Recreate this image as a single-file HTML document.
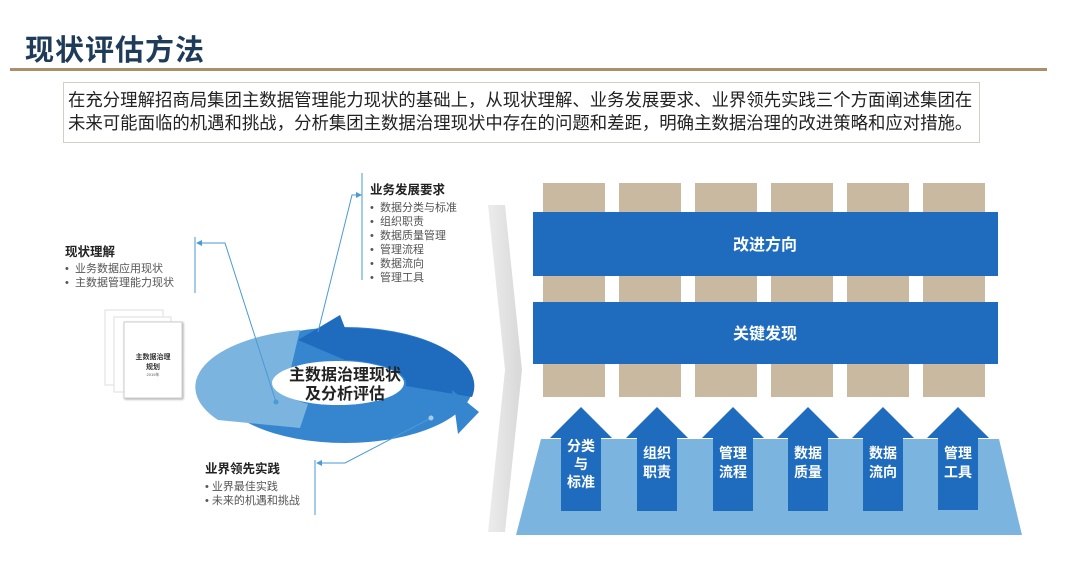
<!DOCTYPE html>
<html><head><meta charset="utf-8"><style>
body{margin:0;width:1080px;height:571px;background:#fff;position:relative;overflow:hidden;font-family:"Liberation Sans","Noto Sans CJK SC",sans-serif;}
.a{position:absolute;white-space:nowrap;}
.t{font-weight:bold;color:#222;font-size:12.5px;}
.b{color:#555;font-size:11px;line-height:14px;}
</style></head><body>
<div class="a" style="left:25px;top:27px;font-size:29px;font-weight:bold;color:#1f3b5a;letter-spacing:1px;">现状评估方法</div>
<div class="a" style="left:10px;top:68px;width:1037px;height:3px;background:#a8916a;"></div>
<div class="a" style="left:63px;top:82px;width:915px;height:59px;border:1px solid #d4cfc5;"></div>
<div class="a" style="left:68px;top:89px;font-size:17.4px;line-height:23px;color:#222;">在充分理解招商局集团主数据管理能力现状的基础上，从现状理解、业务发展要求、业界领先实践三个方面阐述集团在<br>未来可能面临的机遇和挑战，分析集团主数据治理现状中存在的问题和差距，明确主数据治理的改进策略和应对措施。</div>

<svg class="a" style="left:0;top:0" width="1080" height="571">
<defs><linearGradient id="g" x1="0" x2="1"><stop offset="0" stop-color="#ececec"/><stop offset="1" stop-color="#d8d8d8"/></linearGradient></defs>
<polygon points="488,205 505,205 522,370 505,532 488,532 505,370" fill="url(#g)"/>
<rect x="105" y="310" width="58" height="75" fill="#fff" stroke="#ddd"/>
<rect x="114" y="317" width="57" height="75" fill="#fff" stroke="#ddd"/>
<rect x="124" y="322" width="58" height="76" fill="#fff" stroke="#ccc" style="filter:drop-shadow(1px 1px 1px #aaa)"/>
<text x="153" y="359" font-size="7" font-weight="bold" text-anchor="middle" fill="#333">主数据治理</text>
<text x="153" y="369" font-size="7" font-weight="bold" text-anchor="middle" fill="#333">规划</text>
<text x="153" y="376" font-size="4" text-anchor="middle" fill="#555">2019年</text>
<ellipse cx="345" cy="385" rx="128" ry="58" fill="#3586cf"/>
<path d="M300,330 A128,58 0 0 0 218,420 L300,428 L308,404 A68,24 0 0 1 290,372 Z" fill="#7cb4e0"/>
<path d="M345,328 A128,58 0 0 1 472,397 L406,386 A68,24 0 0 0 345,360 L298,340 L340,315 Z" fill="#1f6cbf"/>
<polygon points="452,390 479,412 458,434" fill="#3586cf"/>
<ellipse cx="338" cy="383" rx="66" ry="22" fill="#fff"/>
<g stroke="#4a9ad4" stroke-width="1" fill="none">
<line x1="195" y1="237" x2="195" y2="293"/>
<polyline points="199,243 225,243 276,402"/>
<line x1="362" y1="173" x2="362" y2="280"/>
<polyline points="318,332 352,195 360,195"/>
<line x1="315" y1="460" x2="315" y2="515"/>
<polyline points="319,463 345,463 431,418"/>
</g>
<polygon points="196,243 202,240 202,246" fill="#4a9ad4"/>
<polygon points="362,195 356,192 356,198" fill="#4a9ad4"/>
<polygon points="316,463 322,460 322,466" fill="#4a9ad4"/>
<circle cx="276" cy="402" r="2.5" fill="#4a9ad4"/>
<circle cx="431" cy="418" r="2.5" fill="#a6cbe8"/>
<text x="345" y="380" font-size="16" font-weight="bold" text-anchor="middle" fill="#222">主数据治理现状</text>
<text x="345" y="399" font-size="16" font-weight="bold" text-anchor="middle" fill="#222">及分析评估</text>
<g fill="#c9b9a0">
<rect x="543" y="183" width="62" height="214"/><rect x="619" y="183" width="62" height="214"/><rect x="695" y="183" width="62" height="214"/><rect x="771" y="183" width="62" height="214"/><rect x="847" y="183" width="62" height="214"/><rect x="923" y="183" width="62" height="214"/>
</g>
<rect x="533" y="212" width="465" height="64" fill="#1f6cbf"/>
<rect x="533" y="302" width="465" height="62" fill="#1f6cbf"/>
<text x="765" y="250" font-size="16" font-weight="bold" text-anchor="middle" fill="#fff">改进方向</text>
<text x="765" y="339" font-size="16" font-weight="bold" text-anchor="middle" fill="#fff">关键发现</text>
<polygon points="541,439 999,439 1022,535 516,535" fill="#7cb4e0"/>
<g fill="#1f6cbf">
<polygon points="550,438 581,407 612,438 601,438 601,511 561,511 561,438"/>
<polygon points="626,438 657,407 688,438 677,438 677,511 637,511 637,438"/>
<polygon points="702,438 733,407 764,438 753,438 753,511 713,511 713,438"/>
<polygon points="777,438 808,407 839,438 828,438 828,511 788,511 788,438"/>
<polygon points="852,438 883,407 914,438 903,438 903,511 863,511 863,438"/>
<polygon points="927,438 958,407 989,438 978,438 978,510 938,510 938,438"/>
</g>
<g font-size="14" font-weight="bold" fill="#fff" text-anchor="middle">
<text x="581" y="451">分类</text><text x="581" y="469">与</text><text x="581" y="487">标准</text>
<text x="657" y="458">组织</text><text x="657" y="477">职责</text>
<text x="733" y="458">管理</text><text x="733" y="477">流程</text>
<text x="808" y="458">数据</text><text x="808" y="477">质量</text>
<text x="883" y="458">数据</text><text x="883" y="477">流向</text>
<text x="958" y="458">管理</text><text x="958" y="477">工具</text>
</g>
</svg>

<div class="a t" style="left:65px;top:241px;">现状理解</div>
<div class="a b" style="left:65px;top:262px;">•&nbsp;&nbsp;业务数据应用现状<br>•&nbsp;&nbsp;主数据管理能力现状</div>
<div class="a t" style="left:370px;top:179px;">业务发展要求</div>
<div class="a b" style="left:370px;top:201px;">•&nbsp;&nbsp;数据分类与标准<br>•&nbsp;&nbsp;组织职责<br>•&nbsp;&nbsp;数据质量管理<br>•&nbsp;&nbsp;管理流程<br>•&nbsp;&nbsp;数据流向<br>•&nbsp;&nbsp;管理工具</div>
<div class="a t" style="left:205px;top:458px;">业界领先实践</div>
<div class="a b" style="left:205px;top:480px;">• 业界最佳实践<br>• 未来的机遇和挑战</div>
</body></html>
